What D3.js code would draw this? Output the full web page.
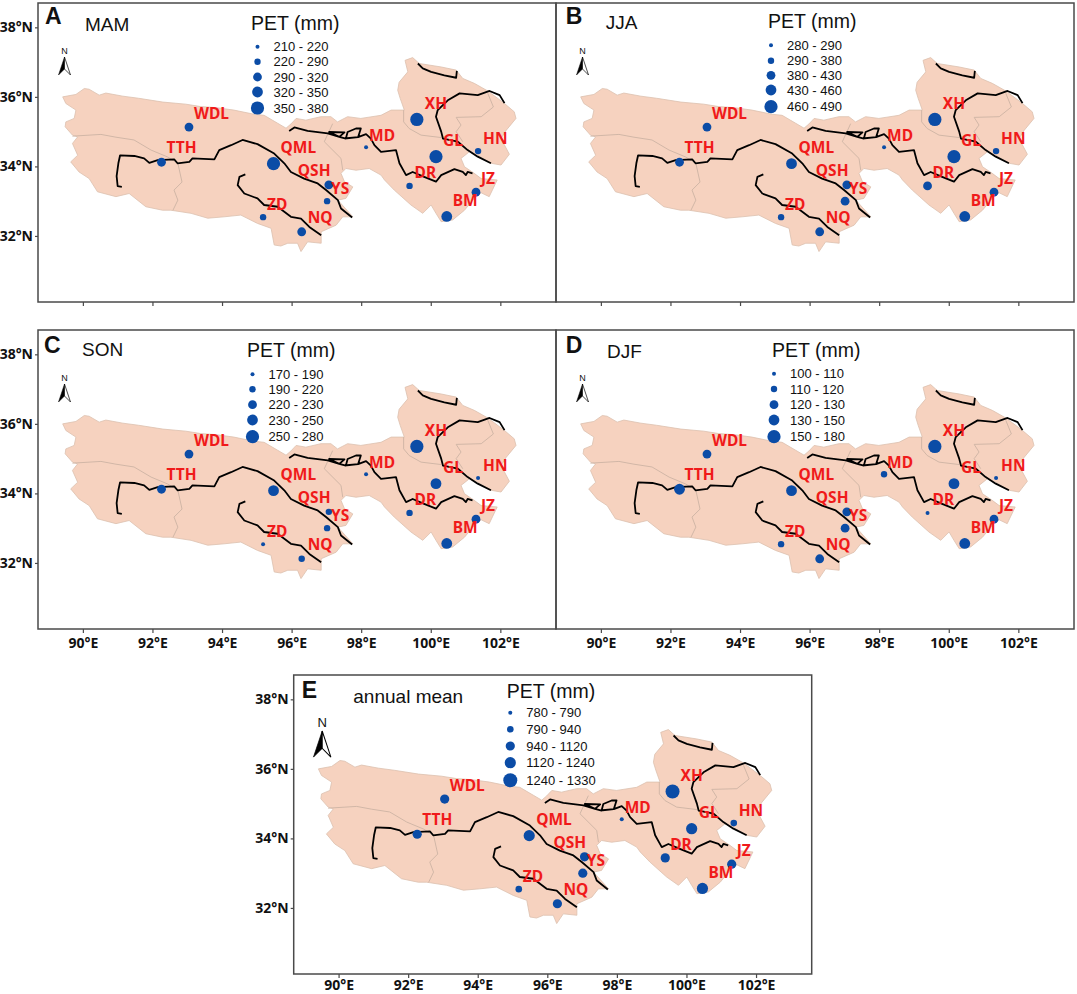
<!DOCTYPE html>
<html>
<head>
<meta charset="utf-8">
<style>
  html, body { margin: 0; background: #fff; }
  .tick text { font-family: "Noto Sans", sans-serif; font-weight: 700; font-size: 14px; fill: #111; }
  .stn { font-family: "Noto Sans", sans-serif; font-weight: 700; font-size: 15.5px; fill: #f01a1a; }
  .txt { font-family: "Liberation Sans", sans-serif; fill: #111; }
</style>
<script src="https://cdn.jsdelivr.net/npm/d3@7"></script>
</head>
<body>
<svg id="chart" width="1077" height="994"></svg>
<script>
// stations, all in the same order
const stations = ['WDL', 'TTH', 'QML', 'QSH', 'YS', 'ZD', 'NQ', 'MD', 'XH', 'GL', 'DR', 'BM', 'JZ', 'HN'];
const stationLon = [93.05, 92.26, 95.48, 97.07, 97.02, 95.18, 96.29, 98.14, 99.60, 100.15, 99.39, 100.46, 101.30, 101.36];
const stationLat = [35.13, 34.12, 34.08, 33.47, 33.00, 32.54, 32.12, 34.55, 35.35, 34.28, 33.44, 32.56, 33.26, 34.44];

// PET per season (mm), read from the symbol classes
const petMAM = [305, 300, 365, 310, 280, 270, 315, 215, 370, 360, 285, 335, 300, 275];
const petJJA = [400, 410, 445, 415, 405, 350, 410, 285, 480, 470, 395, 450, 405, 360];
const petSON = [225, 222, 240, 210, 205, 180, 215, 175, 265, 240, 210, 245, 228, 185];
const petDJF = [125, 140, 145, 125, 128, 115, 125, 115, 165, 138, 105, 145, 125, 108];
const petYear = [1010, 1000, 1170, 1030, 1020, 880, 1040, 785, 1300, 1180, 1000, 1210, 1040, 900];

// class breaks of each legend
const breaksMAM = [210, 220, 290, 320, 350, 380];
const breaksJJA = [280, 290, 380, 430, 460, 490];
const breaksSON = [170, 190, 220, 230, 250, 280];
const breaksDJF = [100, 110, 120, 130, 150, 180];
const breaksYear = [780, 790, 940, 1120, 1240, 1330];

const lonTicks = [90, 92, 94, 96, 98, 100, 102];
const latTicks = [32, 34, 36, 38];

// basin outline, lon/lat
const outline = [[89.42,36.00],[89.80,36.07],[90.04,36.24],[90.18,36.22],[90.47,36.05],[90.66,36.11],[91.15,36.02],[91.60,35.96],[92.30,35.85],[92.96,35.79],
  [93.39,35.72],[93.83,35.69],[94.34,35.62],[94.92,35.50],[95.21,35.47],[95.60,35.24],[95.84,35.10],[95.98,35.22],[96.13,35.38],[96.41,35.33],[96.84,35.43],
  [97.13,35.43],[97.32,35.28],[97.61,35.43],[97.99,35.38],[98.57,35.47],[98.86,35.62],[99.24,35.62],[99.12,35.96],[99.05,36.19],[99.09,36.42],[99.34,36.72],
  [99.26,37.05],[99.48,37.13],[99.67,36.96],[100.30,36.86],[100.73,36.77],[100.92,36.53],[101.25,36.39],[101.64,36.17],[102.12,35.81],[102.40,35.57],
  [102.45,35.38],[102.17,35.04],[102.02,34.80],[102.26,34.35],[102.02,34.04],[101.73,34.09],[101.35,34.32],[101.11,34.42],[100.87,34.23],[100.97,33.99],
  [101.25,33.80],[101.45,33.65],[101.91,33.61],[101.68,33.13],[101.45,33.24],[101.25,33.08],[100.97,32.74],[100.63,32.46],[100.30,32.41],[100.15,32.65],
  [100.01,32.89],[99.77,32.65],[99.43,32.89],[98.95,33.32],[98.67,33.61],[98.57,33.75],[98.23,33.94],[97.85,33.89],[97.56,33.94],[97.42,33.80],[97.52,33.56],
  [97.76,33.41],[97.56,33.08],[97.33,33.03],[97.76,32.55],[97.47,32.55],[97.28,32.31],[96.85,32.12],[96.85,31.79],[96.46,31.83],[96.27,31.55],[96.17,31.79],
  [95.89,31.79],[95.69,31.71],[95.50,31.74],[95.41,32.22],[95.02,32.36],[94.54,32.60],[94.06,32.55],[93.59,32.51],[93.11,32.65],[92.53,32.74],[92.29,32.74],
  [91.81,32.84],[91.33,33.22],[90.95,33.13],[90.42,33.27],[90.18,33.65],[89.89,33.84],[89.65,34.13],[89.85,34.32],[89.70,34.66],[89.85,34.85],[89.70,34.90],
  [89.49,35.14],[89.51,35.28],[89.75,35.38],[89.80,35.62],[89.51,35.81]];

// sub-basin borders
const borders = [
  [[89.70,34.87],[90.52,34.92],[90.95,34.84],[91.47,34.76],[91.96,34.47],[92.44,34.27],[92.73,34.09],[92.85,33.55],[92.62,33.32],[92.73,33.03],[92.59,32.74]],
  [[99.22,35.62],[99.22,35.28],[99.38,35.09],[99.72,34.90],[100.30,34.83]],
  [[101.64,36.10],[101.80,35.71],[101.45,35.43],[100.73,35.41],[100.87,35.19],[100.73,35.00],[100.92,34.71]],
  [[97.18,35.23],[96.94,34.71],[97.42,34.23],[97.47,33.89]]
];

// rivers
const rivers = [
  [[91.12,33.41],[91.00,33.43],[90.97,33.72],[91.02,34.09],[91.07,34.32],[91.48,34.30],[91.76,34.23],[91.91,34.10],[92.15,34.18],[92.63,34.20],[92.72,34.09],
   [93.06,34.13],[93.15,34.23],[93.78,34.20],[93.92,34.47],[94.26,34.61],[94.59,34.76],[95.02,34.64],[95.50,34.37],[95.79,34.09],[95.98,33.84],[96.36,33.65],
   [96.75,33.51],[96.99,33.32],[97.33,33.03],[97.42,32.79],[97.74,32.53]],
  [[94.67,33.77],[94.50,33.70],[94.45,33.46],[94.64,33.22],[95.02,33.08],[95.21,32.89],[95.60,32.84],[95.98,32.55],[96.27,32.50],[96.51,32.26],[96.85,32.02]],
  [[95.93,35.02],[96.08,35.12],[96.46,35.02],[97.04,34.95],[97.37,34.85],[97.52,34.98],[97.08,34.99],[97.37,34.85],[97.56,34.80],[97.61,34.99],[97.85,35.09],
   [97.99,35.09],[97.91,34.84],[97.59,34.81],[97.91,34.84],[98.14,34.93],[98.28,34.80],[98.38,34.61],[98.57,34.42],[99.00,34.47],[99.10,34.09],[99.29,33.75],
   [99.48,33.84],[99.81,33.70],[100.15,33.56],[100.30,33.75],[100.68,33.92],[100.92,33.84],[101.01,33.75],[101.06,33.84],[101.20,33.80]],
  [[102.12,35.82],[101.98,36.05],[101.69,36.17],[101.35,36.05],[100.83,36.10],[100.49,35.90],[100.20,35.62],[100.15,35.43],[100.30,35.00],[100.35,34.80],
   [100.78,34.71],[101.06,34.47],[101.35,34.28],[101.73,34.09]],
  [[99.63,36.96],[99.77,36.82],[100.01,36.72],[100.39,36.62],[100.73,36.55],[100.75,36.75]]
];

// layout below here, not data
const w = 518, h = 299;
const radii = [2, 3.2, 4.4, 5.4, 6.6];
const labelOffset = [[5,-8],[5,-9],[7,-10.5],[-31,-9],[4,-7],[4,-7],[6,-9],[3,-6],[8,-10.6],[7,-11],[5,-8],[6,-10],[5,-8],[5,-7]];

const panels = [
  { id: 'A', name: 'MAM', pet: petMAM, breaks: breaksMAM, left: 38, top: 3, nameX: 47, nameY: 28, petX: 213, petY: 27, lgX: 219.5, lgY: [43.7, 58.7, 74, 89, 105],
    letterX: 7, letterY: 21, showX: false, showY: true },
  { id: 'B', name: 'JJA', pet: petJJA, breaks: breaksJJA, left: 556, top: 3, nameX: 49.7, nameY: 25.5, petX: 212, petY: 24.5, lgX: 215, lgY: [42.3, 57.7, 72.3, 87, 103.7],
    letterX: 9.7, letterY: 21, showX: false, showY: false },
  { id: 'C', name: 'SON', pet: petSON, breaks: breaksSON, left: 38, top: 330, nameX: 44, nameY: 26, petX: 209, petY: 26.7, lgX: 214.5, lgY: [44.3, 59.3, 74.7, 90, 106.7],
    letterX: 6, letterY: 22.7, showX: true, showY: true },
  { id: 'D', name: 'DJF', pet: petDJF, breaks: breaksDJF, left: 556, top: 330, nameX: 51, nameY: 27.7, petX: 216, petY: 26.7, lgX: 218, lgY: [43.7, 59, 74.7, 90, 106.7],
    letterX: 9.7, letterY: 23.3, showX: true, showY: false },
  { id: 'E', name: 'annual mean', pet: petYear, breaks: breaksYear, left: 293.7, top: 675, nameX: 59.6, nameY: 27.7, petX: 213, petY: 23, lgX: 216.6, lgY: [37.7, 54.3, 71, 87.7, 105.3],
    letterX: 8, letterY: 23.3, showX: true, showY: true, big: true }
];

const svg = d3.select('#chart');
const x = d3.scaleLinear().domain([88.71, 103.6]).range([0, w]);
const y = d3.scaleLinear().domain([30.1, 38.7]).range([h, 0]);
const line = d3.line().x(d => x(d[0])).y(d => y(d[1]));

function northArrow(g, px, py, k) {
  const a = g.append('g').attr('transform', `translate(${px},${py}) scale(${k})`);
  a.append('text').attr('class', 'txt').attr('text-anchor', 'middle').attr('y', -3).attr('font-size', 9).text('N');
  a.append('path').attr('d', 'M0,0 L-6,18 L0,12 Z').attr('fill', '#000').attr('stroke', '#000').attr('stroke-width', 0.5);
  a.append('path').attr('d', 'M0,0 L6,18 L0,12 Z').attr('fill', '#fff').attr('stroke', '#000').attr('stroke-width', 0.7);
}

panels.forEach(p => {
  const g = svg.append('g').attr('transform', `translate(${p.left},${p.top})`);
  const rs = p.big ? [2, 3.3, 4.6, 5.6, 7] : radii;
  const size = d3.scaleThreshold().domain(p.breaks.slice(1, 5)).range(rs);

  g.append('path').attr('d', line(outline) + 'Z').attr('fill', '#f6d2bf').attr('stroke', '#dcc0af').attr('stroke-width', 0.8);
  g.selectAll('.border').data(borders).enter().append('path').attr('class', 'border')
    .attr('d', line).attr('fill', 'none').attr('stroke', '#cdb3a4').attr('stroke-width', 0.9);
  g.selectAll('.river').data(rivers).enter().append('path').attr('class', 'river')
    .attr('d', line).attr('fill', 'none').attr('stroke', '#000').attr('stroke-width', 1.8).attr('stroke-linejoin', 'round');

  g.selectAll('.pt').data(stations).enter().append('circle').attr('class', 'pt')
    .attr('cx', (d, i) => x(stationLon[i])).attr('cy', (d, i) => y(stationLat[i]))
    .attr('r', (d, i) => size(p.pet[i])).attr('fill', '#0b4ca6');
  g.selectAll('.stn').data(stations).enter().append('text').attr('class', 'stn')
    .attr('x', (d, i) => x(stationLon[i]) + labelOffset[i][0]).attr('y', (d, i) => y(stationLat[i]) + labelOffset[i][1])
    .text(d => d);

  // frame and axes
  g.append('rect').attr('width', w).attr('height', h).attr('fill', 'none').attr('stroke', '#4a4a4a').attr('stroke-width', 1.5);
  const ax = d3.axisBottom(x).tickValues(lonTicks).tickSize(4).tickPadding(p.big ? 2.5 : 5).tickFormat(d => p.showX ? d + '°E' : '');
  const ag = g.append('g').attr('transform', `translate(0,${h})`).call(ax);
  ag.select('.domain').remove();
  ag.selectAll('line').attr('stroke', '#4a4a4a').attr('stroke-width', 1.2);
  if (p.showY) {
    const ay = d3.axisLeft(y).tickValues(latTicks).tickSize(3).tickPadding(2).tickFormat(d => d + '°N');
    const yg = g.append('g').call(ay);
    yg.select('.domain').remove();
    yg.selectAll('line').attr('stroke', '#4a4a4a').attr('stroke-width', 1.2);
  }

  // panel text
  g.append('text').attr('class', 'txt').attr('x', p.letterX).attr('y', p.letterY).attr('font-size', 23).attr('font-weight', 700).text(p.id);
  g.append('text').attr('class', 'txt').attr('x', p.nameX).attr('y', p.nameY).attr('font-size', 19).text(p.name);
  g.append('text').attr('class', 'txt').attr('x', p.petX).attr('y', p.petY).attr('font-size', 19.5).text('PET (mm)');
  d3.range(5).forEach(i => {
    g.append('circle').attr('cx', p.lgX).attr('cy', p.lgY[i]).attr('r', rs[i]).attr('fill', '#0b4ca6');
    g.append('text').attr('class', 'txt').attr('x', p.lgX + 16).attr('y', p.lgY[i] + 4.5).attr('font-size', 13)
      .text(`${p.breaks[i]} - ${p.breaks[i + 1]}`);
  });
  if (p.big) northArrow(g, 28.5, 56, 1.45);
  else northArrow(g, 26.5, 54, 1);
});
</script>
</body>
</html>
